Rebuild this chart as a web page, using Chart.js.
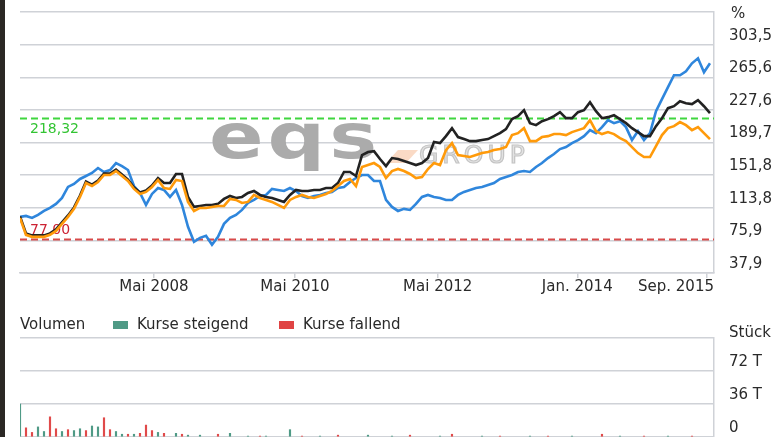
<!DOCTYPE html>
<html><head><meta charset="utf-8">
<script src="https://cdn.jsdelivr.net/npm/chart.js@4/dist/chart.umd.min.js"></script>
<style>
html,body{margin:0;padding:0;background:#fff;overflow:hidden;width:776px;height:437px;}
#wrap{position:relative;width:776px;height:437px;overflow:hidden;}
#c1{position:absolute;left:0;top:0;}
#c2{position:absolute;left:0;top:300px;}
#strip{position:absolute;left:0;top:0;width:5px;height:437px;background:#2b2824;}
</style></head><body>
<div id="wrap">
<canvas id="c1" width="776" height="300"></canvas>
<canvas id="c2" width="776" height="137"></canvas>
<div id="strip"></div>
</div>
<script>
// ---- data ----
const blue = [103.2,104.3,102.0,105.5,110.1,113.6,118.3,125.2,138.0,141.5,
147.3,150.7,154.2,160.0,155.4,157.7,165.8,162.3,157.7,139.1,
131.0,117.1,129.9,136.8,134.5,126.4,134.5,117.1,91.6,74.2,
78.8,81.1,70.7,80.0,95.1,102.0,105.5,111.3,119.4,122.9,
127.5,128.7,135.7,134.5,133.3,136.8,133.3,127.5,125.2,127.5,
128.7,131.0,132.2,136.8,138.0,143.8,148.4,151.9,151.9,144.9,
144.9,122.9,114.8,110.1,112.5,111.3,118.3,126.4,128.7,126.4,
125.2,122.9,122.9,128.7,132.2,134.5,136.8,138.0,140.3,142.6,
147.3,149.6,151.9,155.4,156.5,155.4,161.2,165.8,171.6,176.3,
182.1,184.4,189.0,192.5,197.1,204.1,200.6,207.6,215.7,212.2,
214.5,207.6,192.5,202.9,192.5,200.6,226.1,240.1,254.0,267.9,
267.9,272.5,281.8,287.6,271.4,281.8];
const orange = [102.0,82.3,80.0,80.0,80.0,82.3,86.9,95.1,103.2,112.5,
126.4,142.6,139.1,143.8,151.9,151.9,156.5,150.7,144.9,135.7,
129.9,132.2,138.0,146.1,136.8,135.7,146.1,144.9,120.6,110.1,
113.6,113.6,114.8,115.9,115.9,124.1,122.9,119.4,120.6,128.7,
125.2,122.9,120.6,117.1,113.6,122.9,126.4,128.7,126.4,125.2,
127.5,129.9,133.3,139.1,144.9,147.3,139.1,161.2,163.5,165.8,
161.2,148.4,156.5,158.9,156.5,153.1,148.4,149.6,158.9,165.8,
163.5,180.9,189.0,175.1,173.9,172.8,175.1,177.4,178.6,180.9,
182.1,184.4,198.3,200.6,206.4,191.3,191.3,196.0,197.1,199.5,
199.5,198.3,201.8,204.1,206.4,215.7,202.9,199.5,201.8,199.5,
194.8,191.3,184.4,177.4,172.8,172.8,185.5,198.3,206.4,208.7,
213.4,209.9,204.1,207.6,200.6,193.7];
const black = [103.7,84.0,81.7,81.7,81.7,84.0,88.6,96.8,104.9,114.2,
128.1,144.3,140.8,145.5,153.6,153.6,158.2,152.4,146.6,137.4,
131.6,133.9,139.7,148.4,142.6,142.6,153.1,153.1,126.4,114.8,
115.9,117.1,117.1,118.3,124.1,127.5,125.2,126.4,131.0,133.3,
128.7,126.4,125.2,122.9,120.6,128.7,134.5,133.3,133.3,134.5,
134.5,136.8,136.8,142.6,155.4,155.4,150.7,175.1,178.6,179.7,
170.5,162.3,171.6,170.5,168.1,165.8,163.5,165.8,171.6,190.2,
189.0,197.1,206.4,196.0,193.7,191.3,191.3,192.5,193.7,197.1,
200.6,205.3,216.9,220.3,227.3,212.2,209.9,214.5,216.9,220.3,
225.0,218.0,218.0,225.0,227.3,236.6,226.1,218.0,219.2,221.5,
216.9,212.2,206.4,201.8,197.1,197.1,208.7,218.0,229.6,231.9,
237.7,235.4,234.3,238.9,231.9,223.8];

const volUp = [36,0,0,11,6,0,0,6,0,7, 9,0,12,11,0,0,6,3,0,3, 0,0,0,5,0,0,4,0,2,0,
 2,0,0,0,0,4,0,0,1,0, 0,1,0,0,0,8,0,0,0,0, 1,0,0,0,0,0,0,0,2,0, 0,0,1,0,0,0,0,0,0,0,
 1,0,0,0,0,0,0,1,0,0, 0,0,0,0,0,1,0,0,0,0, 0,0,1,0,0,0,0,0,0,0, 1,0,0,0,0,0,0,0,1,0, 0,0,0,0,0,0];
const volDown = [0,10,5,0,0,22,9,0,8,0, 0,7,0,0,21,8,0,0,3,0, 4,13,7,0,4,0,0,3,0,0,
 0,0,0,3,0,0,0,0,0,0, 1,0,0,0,0,0,0,1,0,0, 0,0,0,2,0,0,0,0,0,0, 0,0,0,0,0,2,0,0,0,0,
 0,0,3,0,0,0,0,0,0,0, 1,0,0,0,0,0,0,0,1,0, 0,0,0,0,0,0,0,3,0,0, 0,0,0,0,1,0,0,0,0,0, 0,0,1,0,0,0];

const priceTicks = [37.94, 75.88, 113.82, 151.76, 189.70, 227.64, 265.58, 303.52, 341.46];
const priceTickLabels = ['37,9','75,9','113,8','151,8','189,7','227,6','265,6','303,5',''];
const xTickPos = [22.33, 45.83, 69.62, 92.88, 114.45];
const xTickLabels = ['Mai 2008','Mai 2010','Mai 2012','Jan. 2014','Sep. 2015'];
const refValues = [218.32, 77.00];
const refLabels = ['218,32','77,00'];
const volTicks = [0, 36, 72, 108];
const volTickLabels = ['0','36 T','72 T',''];

// ---- styling ----
const FONT = '"DejaVu Sans", sans-serif';
Chart.defaults.font.family = FONT;
Chart.defaults.font.size = 15;
Chart.defaults.color = '#2a2a2a';
const GRID = '#cfd2d7';

const pts = arr => arr.map((v,i)=>({x:i,y:v}));
const fitY = s => { s.width = 62; s.paddingTop = 0; s.paddingBottom = 0; };

const topDeco = {
  id:'topDeco',
  beforeDatasetsDraw(chart){
    const {ctx, chartArea:ca, scales:{y}} = chart;
    ctx.save();
    // watermark
    ctx.save();
    ctx.translate(209,158);
    ctx.scale(1.3,1);
    ctx.letterSpacing = '3px';
    ctx.fillStyle = '#ababab';
    ctx.font = 'bold 62px "DejaVu Sans"';
    ctx.textAlign = 'left'; ctx.textBaseline = 'alphabetic';
    ctx.fillText('eqs', 0, 0);
    ctx.restore();
    ctx.fillStyle = 'rgba(240,150,90,0.35)';
    ctx.beginPath(); ctx.moveTo(386,163); ctx.lineTo(398,150); ctx.lineTo(418,150); ctx.lineTo(406,163); ctx.closePath(); ctx.fill();
    ctx.save();
    ctx.letterSpacing = '4px';
    ctx.font = '25px "DejaVu Sans"';
    ctx.fillStyle = '#e3e3e3'; ctx.strokeStyle = '#c4c4c4'; ctx.lineWidth = 1.2;
    ctx.fillText('GROUP', 419, 163); ctx.strokeText('GROUP', 419, 163);
    ctx.restore();
    // reference lines
    const cols = ['#3fd63f','#d84a4a'];
    const tcols = ['#33c433','#cc2233'];
    const offs = [11, -9];
    refValues.forEach((v,k)=>{
      const py = Math.round(y.getPixelForValue(v)) + 0.5;
      ctx.strokeStyle = cols[k]; ctx.lineWidth = 2; ctx.setLineDash([7,4]);
      ctx.beginPath(); ctx.moveTo(ca.left, py); ctx.lineTo(ca.right, py); ctx.stroke();
      ctx.setLineDash([]);
      ctx.fillStyle = tcols[k]; ctx.font = '14px ' + FONT; ctx.textBaseline = 'middle'; ctx.textAlign = 'left';
      ctx.fillText(refLabels[k], 30, py + offs[k]);
    });
    ctx.restore();
  },
  afterDraw(chart){
    const {ctx, chartArea:ca, scales:{x}} = chart;
    ctx.save();
    ctx.font = '15px ' + FONT; ctx.fillStyle = '#2a2a2a'; ctx.textBaseline = 'middle'; ctx.textAlign = 'left';
    xTickPos.forEach((v,k)=>{
      const px = x.getPixelForValue(v);
      const w = ctx.measureText(xTickLabels[k]).width;
      const left = Math.min(px - w/2, ca.right - w);
      ctx.fillText(xTickLabels[k], left, 287);
    });
    ctx.fillText('%', 731, 14);
    ctx.restore();
  }
};

new Chart(document.getElementById('c1'), {
  type:'line',
  data:{datasets:[
    {label:'A', data:pts(orange), borderColor:'#ff9a0a', borderWidth:2.6, pointRadius:0, tension:0, order:1},
    {label:'B', data:pts(black), borderColor:'#222222', borderWidth:2.6, pointRadius:0, tension:0, order:2},
    {label:'C', data:pts(blue), borderColor:'#2f86dc', borderWidth:2.6, pointRadius:0, tension:0, order:3}
  ]},
  options:{
    responsive:false, animation:false,
    layout:{padding:{left:20, top:12, right:0, bottom:0}},
    plugins:{legend:{display:false}, tooltip:{enabled:false}},
    scales:{
      x:{type:'linear', min:0, max:115.67,
        afterBuildTicks:s=>{ s.ticks = xTickPos.map(v=>({value:v})); },
        afterFit:s=>{ s.height = 27; s.paddingLeft = 0; s.paddingRight = 0; },
        grid:{drawOnChartArea:false, drawTicks:true, tickLength:5, color:GRID, lineWidth:1.5},
        border:{display:true, color:GRID, width:1.5},
        ticks:{display:false}
      },
      y:{type:'linear', position:'right', min:priceTicks[0], max:priceTicks[priceTicks.length-1],
        afterBuildTicks:s=>{ s.ticks = priceTicks.map(v=>({value:v})); },
        afterFit:fitY,
        grid:{color:GRID, lineWidth:1.5, drawTicks:false},
        border:{display:true, color:GRID, width:1.5},
        ticks:{padding:15, labelOffset:-9, font:{size:15}, color:'#2a2a2a',
          callback:(v,i)=>priceTickLabels[i]}
      }
    }
  },
  plugins:[topDeco]
});

const volDeco = {
  id:'volDeco',
  afterDraw(chart){
    const {ctx} = chart;
    ctx.save();
    ctx.font = '15px ' + FONT; ctx.fillStyle = '#2a2a2a'; ctx.textBaseline = 'middle'; ctx.textAlign = 'left';
    ctx.fillText('Volumen', 20, 25);
    ctx.fillStyle = '#4f9a86'; ctx.fillRect(113, 21, 15, 8);
    ctx.fillStyle = '#2a2a2a'; ctx.fillText('Kurse steigend', 137, 25);
    ctx.fillStyle = '#e04444'; ctx.fillRect(279, 21, 15, 8);
    ctx.fillStyle = '#2a2a2a'; ctx.fillText('Kurse fallend', 303, 25);
    ctx.fillText('Stück', 729, 33);
    ctx.restore();
  }
};

const barPts = arr => arr.map((v,i)=>({x:i,y:v})).filter(p=>p.y>0);
new Chart(document.getElementById('c2'), {
  type:'bar',
  data:{datasets:[
    {label:'Kurse steigend', data:barPts(volUp), backgroundColor:'#4f9a86', barThickness:1.5, grouped:false},
    {label:'Kurse fallend', data:barPts(volDown), backgroundColor:'#e04a4a', barThickness:1.5, grouped:false}
  ]},
  options:{
    responsive:false, animation:false,
    layout:{padding:{left:20, top:38, right:0, bottom:0}},
    plugins:{legend:{display:false}, tooltip:{enabled:false}},
    scales:{
      x:{type:'linear', min:0, max:115.67, display:false, offset:false},
      y:{type:'linear', position:'right', min:0, max:108,
        afterBuildTicks:s=>{ s.ticks = volTicks.map(v=>({value:v})); },
        afterFit:fitY,
        grid:{color:GRID, lineWidth:1.5, drawTicks:false},
        border:{display:true, color:GRID, width:1.5},
        ticks:{padding:15, labelOffset:-9, font:{size:15}, color:'#2a2a2a',
          callback:(v,i)=>volTickLabels[i]}
      }
    }
  },
  plugins:[volDeco]
});
</script>
</body></html>
